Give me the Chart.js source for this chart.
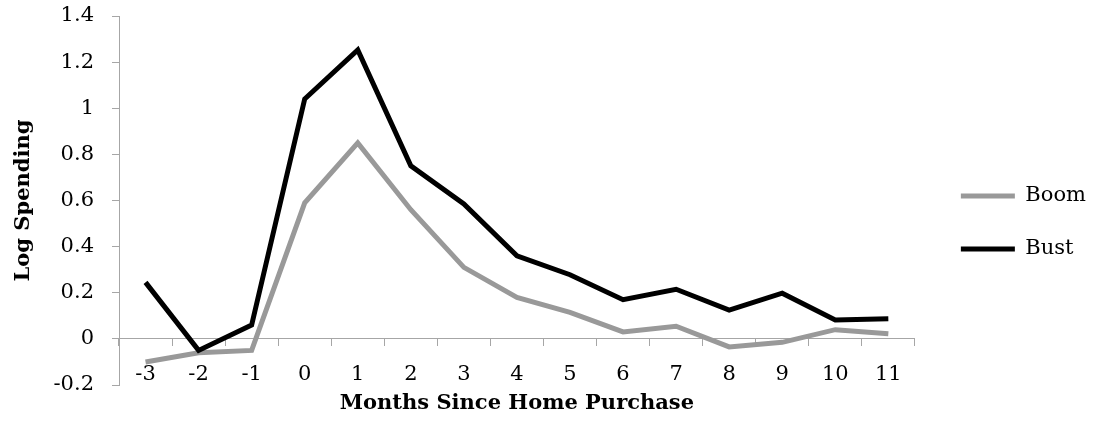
<!DOCTYPE html>
<html>
<head>
<meta charset="utf-8">
<script src="https://cdn.jsdelivr.net/npm/chart.js@4/dist/chart.umd.min.js"></script>
<style>
  html, body { margin: 0; padding: 0; background: #fff; }
  #wrap { width: 1096px; height: 423px; }
</style>
</head>
<body>
<div id="wrap"><canvas id="chart"></canvas></div>
<script>
const months = ['-3', '-2', '-1', '0', '1', '2', '3', '4', '5', '6', '7', '8', '9', '10', '11'];
const boom = [-0.10, -0.06, -0.05, 0.59, 0.85, 0.56, 0.31, 0.18, 0.115, 0.03, 0.055, -0.035, -0.015, 0.04, 0.022];
const bust = [0.245, -0.05, 0.06, 1.04, 1.253, 0.75, 0.585, 0.36, 0.278, 0.17, 0.215, 0.125, 0.198, 0.082, 0.087];
const yTicks = [-0.2, 0, 0.2, 0.4, 0.6, 0.8, 1, 1.2, 1.4];

const axisGrey = '#a6a6a6';
const font = { family: 'DejaVu Serif', size: 21 };
const boldFont = { family: 'DejaVu Serif', size: 21, weight: 'bold' };

const ctx = document.getElementById('chart').getContext('2d');
const chart = new Chart(ctx, {
    type: 'line',
    data: {
        labels: months,
        datasets: [{
            label: 'Boom',
            data: boom,
            borderColor: '#999999',
            backgroundColor: '#999999',
            borderWidth: 5,
            pointRadius: 0,
            order: 1
        }, {
            label: 'Bust',
            data: bust,
            borderColor: '#000000',
            backgroundColor: '#000000',
            borderWidth: 5,
            pointRadius: 0,
            order: 0
        }]
    },
    options: {
        responsive: true,
        maintainAspectRatio: false,
        animation: false,
        layout: { padding: { top: 16, bottom: 38, left: 0, right: 0 } },
        scales: {
            x: {
                type: 'category',
                position: { y: 0 },
                offset: true,
                grid: { display: true, offset: true, drawOnChartArea: false, tickLength: 7, color: axisGrey },
                border: { display: true, color: axisGrey, width: 1 },
                ticks: { font: font, color: '#000', padding: 16, maxRotation: 0, autoSkip: false },
                title: { display: true, text: 'Months Since Home Purchase', font: boldFont, color: '#000', padding: { top: -12, bottom: 0 } }
            },
            y: {
                position: 'left',
                min: -0.2,
                max: 1.4,
                afterBuildTicks: s => { s.ticks = yTicks.map(v => ({ value: v })); },
                afterFit: s => { s.width = 119; s.paddingTop = 0; s.paddingBottom = 0; },
                grid: { display: true, drawOnChartArea: false, tickLength: 7, color: axisGrey },
                border: { display: true, color: axisGrey, width: 1 },
                ticks: { font: font, color: '#000', padding: 18, callback: v => String(v) },
                title: { display: true, text: 'Log Spending', font: boldFont, color: '#000', padding: { top: 11, bottom: 0 } }
            },
            yPad: {
                type: 'linear',
                position: 'right',
                min: 0,
                max: 1,
                afterFit: s => { s.width = 14; },
                grid: { display: false },
                border: { display: false },
                ticks: { display: false }
            }
        },
        plugins: {
            tooltip: { enabled: false },
            legend: {
                position: 'right',
                align: 'start',
                title: { display: true, text: '', padding: { top: 123, bottom: 0 } },
                labels: {
                    font: font,
                    color: '#000',
                    boxWidth: 54,
                    boxHeight: 5,
                    padding: 32,
                    sort: (a, b) => a.datasetIndex - b.datasetIndex,
                    generateLabels: c => Chart.defaults.plugins.legend.labels.generateLabels(c).map(l => Object.assign(l, { lineWidth: 0 }))
                }
            }
        }
    }
});
</script>
</body>
</html>
